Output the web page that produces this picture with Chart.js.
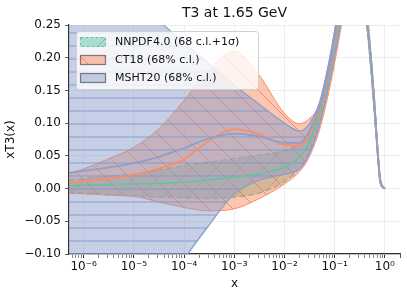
<!DOCTYPE html>
<html>
<head>
<meta charset="utf-8">
<script src="https://cdn.jsdelivr.net/npm/chart.js@4.4.1/dist/chart.umd.min.js"></script>
<style>
html, body { margin: 0; padding: 0; background: #fff; }
#wrap { width: 407px; height: 298px; }
</style>
</head>
<body>
<div id="wrap"><canvas id="chart" width="407" height="298"></canvas></div>
<script>
// x grid (momentum fraction) the curves were read at
const xs = [5e-7, 1e-6, 3e-6, 1e-5, 3e-5, 1e-4, 3e-4, 1e-3, 3e-3, 1e-2, 2e-2, 3e-2, 5e-2, 8e-2, 0.12, 0.2, 0.3, 0.45, 0.6, 0.72, 0.8, 0.9, 1.0];

// NNPDF4.0: central, upper, lower
const nnpdfCentral = [0.004, 0.005, 0.006, 0.007, 0.008, 0.010, 0.013, 0.017, 0.022, 0.033, 0.048, 0.068, 0.115, 0.18, 0.255, 0.34, 0.34, 0.25, 0.14, 0.055, 0.014, 0.003, 0];
const nnpdfUpper = [0.013, 0.015, 0.019, 0.022, 0.028, 0.035, 0.040, 0.046, 0.051, 0.058, 0.068, 0.085, 0.128, 0.195, 0.27, 0.35, 0.35, 0.26, 0.15, 0.06, 0.017, 0.004, 0];
const nnpdfLower = [-0.006, -0.007, -0.009, -0.011, -0.013, -0.014, -0.015, -0.013, -0.007, 0.011, 0.032, 0.054, 0.1, 0.165, 0.24, 0.33, 0.33, 0.24, 0.13, 0.05, 0.011, 0.002, 0];

// CT18
const ct18Central = [0.008, 0.011, 0.015, 0.021, 0.03, 0.045, 0.072, 0.091, 0.084, 0.067, 0.066, 0.08, 0.12, 0.185, 0.26, 0.34, 0.34, 0.25, 0.14, 0.055, 0.014, 0.003, 0];
const ct18Upper = [0.023, 0.03, 0.045, 0.063, 0.09, 0.135, 0.18, 0.21, 0.175, 0.115, 0.099, 0.106, 0.13, 0.2, 0.275, 0.35, 0.35, 0.26, 0.15, 0.06, 0.017, 0.004, 0];
const ct18Lower = [-0.007, -0.008, -0.01, -0.012, -0.02, -0.029, -0.034, -0.031, -0.016, 0.007, 0.026, 0.046, 0.09, 0.155, 0.225, 0.32, 0.33, 0.24, 0.13, 0.05, 0.011, 0.002, 0];

// MSHT20
const mshtCentral = [0.024, 0.027, 0.032, 0.039, 0.048, 0.062, 0.076, 0.084, 0.08, 0.07, 0.07, 0.085, 0.125, 0.19, 0.265, 0.34, 0.34, 0.25, 0.14, 0.055, 0.014, 0.003, 0];
const mshtUpper = [0.37, 0.35, 0.32, 0.29, 0.258, 0.223, 0.192, 0.158, 0.13, 0.1, 0.088, 0.097, 0.132, 0.2, 0.275, 0.35, 0.35, 0.26, 0.15, 0.06, 0.017, 0.004, 0];
const mshtLower = [-0.38, -0.34, -0.28, -0.23, -0.17, -0.108, -0.058, -0.008, 0.012, 0.022, 0.03, 0.05, 0.098, 0.165, 0.235, 0.33, 0.33, 0.24, 0.13, 0.05, 0.011, 0.002, 0];

const setNames = ['NNPDF4.0 (68 c.l.+1σ)', 'CT18 (68% c.l.)', 'MSHT20 (68% c.l.)'];

// axis ticks
const xMajor = [1e-6, 1e-5, 1e-4, 1e-3, 1e-2, 1e-1, 1];
const xTickLabels = ['10⁻⁶', '10⁻⁵', '10⁻⁴', '10⁻³', '10⁻²', '10⁻¹', '10⁰'];
const yTicks = [-0.10, -0.05, 0.00, 0.05, 0.10, 0.15, 0.20, 0.25];
const yTickLabels = ['−0.10', '−0.05', '0.00', '0.05', '0.10', '0.15', '0.20', '0.25'];

const GREEN = '#66c2a5', ORANGE = '#fc8d62', BLUE = '#8da0cb';
Chart.defaults.font.family = "'DejaVu Sans', sans-serif";

const canvas = document.getElementById('chart');
const ctx = canvas.getContext('2d');

function hatch(bg, line, kind, size) {
    const c = document.createElement('canvas');
    c.width = size; c.height = size;
    const g = c.getContext('2d');
    g.fillStyle = bg;
    g.fillRect(0, 0, size, size);
    g.strokeStyle = line;
    g.lineWidth = 1;
    g.beginPath();
    if (kind === '-') {
        g.moveTo(0, size / 2 + 0.5); g.lineTo(size, size / 2 + 0.5);
    } else if (kind === '\\') {
        [-size, 0, size].forEach(o => { g.moveTo(o, 0); g.lineTo(o + size, size); });
    } else {
        [-size, 0, size].forEach(o => { g.moveTo(o, size); g.lineTo(o + size, 0); });
    }
    g.stroke();
    return ctx.createPattern(c, 'repeat');
}

const nnpdfFill = hatch('rgba(102,194,165,0.5)', 'rgba(90,110,100,0.35)', '/', 24);
const ct18Fill = hatch('rgba(252,141,98,0.5)', 'rgba(225,100,80,0.6)', '\\', 24);
const mshtFill = hatch('rgba(141,160,203,0.5)', 'rgba(130,150,200,0.9)', '-', 13);

const pts = arr => xs.map((x, i) => ({ x: x, y: arr[i] }));

const isMajor = v => Math.abs(Math.log10(v) - Math.round(Math.log10(v))) < 1e-6;

const xTickValues = [];
for (let e = -7; e <= 0; e++) {
    for (let m = 1; m <= 9; m++) {
        const v = m * Math.pow(10, e);
        if (v >= 5.1e-7 && v <= 2.0) xTickValues.push(v);
    }
}
xTickValues.push(2);

const titlePlugin = {
    id: 'plotTitle',
    afterDraw(chart) {
        const c = chart.ctx, a = chart.chartArea;
        c.save();
        c.font = "14px 'DejaVu Sans'";
        c.fillStyle = '#111';
        c.textAlign = 'center';
        c.textBaseline = 'middle';
        c.fillText('T3 at 1.65 GeV', (a.left + a.right) / 2, 13);
        c.restore();
    }
};

const legendPlugin = {
    id: 'bandLegend',
    afterDraw(chart) {
        const c = chart.ctx;
        const fills = [nnpdfFill, ct18Fill, mshtFill];
        const edges = [GREEN, 'rgba(110,100,95,0.85)', 'rgba(100,100,110,0.85)'];
        c.save();
        c.beginPath();
        c.roundRect(76.5, 31.5, 182, 58, 3);
        c.fillStyle = 'rgba(255,255,255,0.8)';
        c.fill();
        c.strokeStyle = '#d0d0d0';
        c.lineWidth = 1;
        c.stroke();
        setNames.forEach((name, i) => {
            const cy = 42 + 18 * i;
            c.fillStyle = fills[i];
            c.fillRect(80.5, cy - 4.5, 25, 9);
            c.strokeStyle = edges[i];
            c.lineWidth = 1.2;
            c.setLineDash(i === 0 ? [3, 2] : []);
            c.strokeRect(80.5, cy - 4.5, 25, 9);
            c.setLineDash([]);
            c.fillStyle = '#111';
            c.font = "11px 'DejaVu Sans'";
            c.textAlign = 'left';
            c.textBaseline = 'middle';
            c.fillText(name, 115, cy);
        });
        c.restore();
    }
};

const band = (data, color, width, dash, fill, order, isUpper) => ({
    data: pts(data),
    borderColor: color,
    borderWidth: width,
    borderDash: dash,
    backgroundColor: fill,
    fill: isUpper ? '+1' : false,
    order: order
});

new Chart(canvas, {
    type: 'line',
    data: {
        datasets: [
            band(nnpdfUpper, GREEN, 1.6, [6, 3], nnpdfFill, 6, true),
            band(nnpdfLower, GREEN, 1.6, [6, 3], nnpdfFill, 6, false),
            band(ct18Upper, ORANGE, 1.0, [], ct18Fill, 5, true),
            band(ct18Lower, ORANGE, 1.0, [], ct18Fill, 5, false),
            band(mshtUpper, BLUE, 1.3, [], mshtFill, 4, true),
            band(mshtLower, BLUE, 1.3, [], mshtFill, 4, false),
            { data: pts(nnpdfCentral), borderColor: GREEN, borderWidth: 1.8, fill: false, order: 3 },
            { data: pts(ct18Central), borderColor: ORANGE, borderWidth: 1.8, fill: false, order: 2 },
            { data: pts(mshtCentral), borderColor: BLUE, borderWidth: 1.8, fill: false, order: 1 }
        ]
    },
    options: {
        responsive: false,
        animation: false,
        layout: { padding: { top: 25, right: 7, left: 0, bottom: 0 } },
        elements: {
            point: { radius: 0 },
            line: { cubicInterpolationMode: 'monotone' }
        },
        plugins: {
            legend: { display: false },
            tooltip: { enabled: false },
            title: { display: false }
        },
        scales: {
            x: {
                type: 'logarithmic',
                min: 5.1e-7,
                max: 2.0,
                afterFit: s => { s.height = 44; },
                afterBuildTicks: s => { s.ticks = xTickValues.map(v => ({ value: v })); },
                ticks: {
                    autoSkip: false,
                    maxRotation: 0,
                    padding: 2,
                    color: '#111',
                    font: { size: 12 },
                    callback: v => {
                        const i = xMajor.findIndex(m => Math.abs(m - v) / m < 1e-6);
                        return i >= 0 ? xTickLabels[i] : '';
                    }
                },
                grid: {
                    color: c => (c.tick && isMajor(c.tick.value)) ? '#e8e8e8' : 'rgba(0,0,0,0)',
                    lineWidth: 0.8,
                    tickColor: '#333',
                    tickLength: 4,
                    tickWidth: c => (c.tick && isMajor(c.tick.value)) ? 1 : 0.6
                },
                border: { color: '#333', width: 1.2 },
                title: { display: true, text: 'x', color: '#111', font: { size: 12 }, padding: { top: 7, bottom: 7 } }
            },
            y: {
                type: 'linear',
                min: -0.10,
                max: 0.25,
                afterFit: s => { s.width = 69; },
                afterBuildTicks: s => { s.ticks = yTicks.map(v => ({ value: v })); },
                ticks: {
                    padding: 4,
                    color: '#111',
                    font: { size: 12 },
                    callback: (v, i) => yTickLabels[i]
                },
                grid: {
                    color: '#e8e8e8',
                    lineWidth: 0.8,
                    tickColor: '#333',
                    tickLength: 4
                },
                border: { color: '#333', width: 1.2 },
                title: { display: true, text: 'xT3(x)', color: '#111', font: { size: 12 }, padding: { top: 4, bottom: 0 } }
            }
        }
    },
    plugins: [titlePlugin, legendPlugin]
});
</script>
</body>
</html>
